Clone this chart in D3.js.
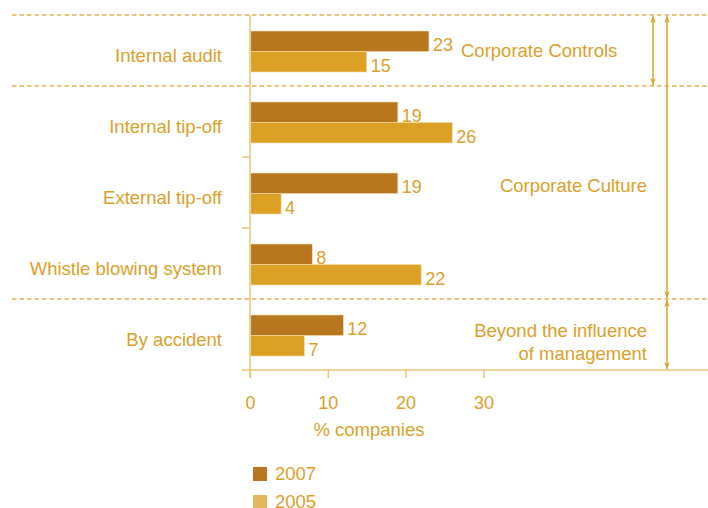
<!DOCTYPE html>
<html>
<head>
<meta charset="utf-8">
<script src="https://cdn.jsdelivr.net/npm/d3@7"></script>
<style>
  html, body { margin: 0; padding: 0; background: #fff; }
  svg { display: block; font-family: "Liberation Sans", Arial, sans-serif; }
</style>
</head>
<body>
<svg id="chart" width="708" height="508"></svg>
<script>
// How fraud was detected, share of companies (%)
const categories = ["Internal audit", "Internal tip-off", "External tip-off", "Whistle blowing system", "By accident"];
const values2007 = [23, 19, 19, 8, 12];
const values2005 = [15, 26, 4, 22, 7];
const seriesNames = ["2007", "2005"];
const xTicks = [0, 10, 20, 30];
const xTitle = "% companies";
// Groups of categories, spanned by a bracket arrow on the right
const groups = [
  { label: ["Corporate Controls"], from: 0, to: 0 },
  { label: ["Corporate Culture"], from: 0, to: 3 },
  { label: ["Beyond the influence", "of management"], from: 4, to: 4 }
];

const colDark = "#b8761f";
const colLight = "#dca124";
const colLegendLight = "#e3b85c";
const colText = "#dca02a";
const colAxis = "#ecc476";
const colDash = "#e3b257";

const svg = d3.select("#chart");

const x = d3.scaleLinear().domain([0, 30]).range([250, 483.4]);
const y = d3.scaleBand().domain(categories).range([15, 370]);
const inner = d3.scaleBand().domain(seriesNames).range([0, 41]);
const groupOffset = (y.bandwidth() - inner.range()[1]) / 2 + 1;

// arrow markers
const defs = svg.append("defs");
["start", "end"].forEach(kind => {
  defs.append("marker")
    .attr("id", "arr-" + kind)
    .attr("viewBox", "0 0 10 10")
    .attr("refX", kind === "end" ? 10 : 0)
    .attr("refY", 5)
    .attr("markerWidth", 7)
    .attr("markerHeight", 9)
    .attr("markerUnits", "userSpaceOnUse")
    .attr("orient", "auto")
    .append("path")
    .attr("d", kind === "end" ? "M0,1 L10,5 L0,9 L3,5 Z" : "M10,1 L0,5 L10,9 L7,5 Z")
    .attr("fill", colText);
});

// dashed separators between category groups
const sepYs = [y(categories[0]), y(categories[1]), y(categories[4])];
svg.append("g").selectAll("line").data(sepYs).join("line")
  .attr("x1", 12).attr("x2", 708)
  .attr("y1", d => d).attr("y2", d => d)
  .attr("stroke", colDash)
  .attr("stroke-width", 1.5)
  .attr("stroke-dasharray", "4.5,3");

// y axis line with category boundary ticks
svg.append("line")
  .attr("x1", x(0)).attr("x2", x(0))
  .attr("y1", y.range()[0]).attr("y2", y.range()[1] + 8)
  .attr("stroke", colAxis).attr("stroke-width", 1.5);
svg.append("g").selectAll("line").data([y(categories[2]), y(categories[3])]).join("line")
  .attr("x1", x(0) - 8).attr("x2", x(0))
  .attr("y1", d => d).attr("y2", d => d)
  .attr("stroke", colAxis).attr("stroke-width", 1.5);

// x axis
const xAxis = d3.axisBottom(x).tickValues(xTicks).tickSize(8).tickPadding(18);
const gx = svg.append("g").attr("transform", `translate(0,${y.range()[1]})`).call(xAxis);
gx.select(".domain").remove();
gx.append("line")
  .attr("x1", 242).attr("x2", 708).attr("y1", 0).attr("y2", 0)
  .attr("stroke", colAxis).attr("stroke-width", 1.5);
gx.selectAll(".tick line").attr("stroke", colAxis).attr("stroke-width", 1.5);
gx.selectAll(".tick text")
  .attr("fill", colText)
  .attr("font-size", 18)
  .attr("font-family", "Liberation Sans, Arial, sans-serif");

svg.append("text")
  .attr("x", 369).attr("y", 436)
  .attr("text-anchor", "middle")
  .attr("fill", colText).attr("font-size", 18.5)
  .text(xTitle);

// bars
const rows = categories.map((c, i) => ({ cat: c, vals: [
  { s: "2007", v: values2007[i], col: colDark },
  { s: "2005", v: values2005[i], col: colLight }
] }));

const rowG = svg.append("g").selectAll("g").data(rows).join("g")
  .attr("transform", d => `translate(0,${y(d.cat) + groupOffset})`);

rowG.selectAll("rect").data(d => d.vals).join("rect")
  .attr("x", x(0) + 0.75)
  .attr("y", d => inner(d.s))
  .attr("width", d => x(d.v) - x(0) - 0.75)
  .attr("height", inner.bandwidth())
  .attr("fill", d => d.col)
  .attr("stroke", "#f3dcae")
  .attr("stroke-width", 0.6);

rowG.selectAll("text.val").data(d => d.vals).join("text")
  .attr("class", "val")
  .attr("x", d => x(d.v) + 4)
  .attr("y", d => inner(d.s) + inner.bandwidth() - 0.5)
  .attr("fill", colText)
  .attr("font-size", 18)
  .text(d => d.v);

// category labels
svg.append("g").selectAll("text").data(categories).join("text")
  .attr("x", 222)
  .attr("y", d => y(d) + y.bandwidth() / 2 + 11)
  .attr("text-anchor", "end")
  .attr("fill", colText)
  .attr("font-size", 18.5)
  .text(d => d);

// group brackets and labels
const bracketX = [653, 667, 667];
groups.forEach((g, i) => {
  const y0 = y(categories[g.from]);
  const y1 = y(categories[g.to]) + y.bandwidth();
  svg.append("line")
    .attr("x1", bracketX[i]).attr("x2", bracketX[i])
    .attr("y1", y0 + 1).attr("y2", y1 - 1)
    .attr("stroke", colText).attr("stroke-width", 1.5)
    .attr("marker-start", "url(#arr-start)")
    .attr("marker-end", "url(#arr-end)");
});

// group labels
svg.append("text")
  .attr("x", 461).attr("y", 57)
  .attr("fill", colText).attr("font-size", 18.5)
  .text(groups[0].label[0]);
svg.append("text")
  .attr("x", 647).attr("y", 192)
  .attr("text-anchor", "end")
  .attr("fill", colText).attr("font-size", 18.5)
  .text(groups[1].label[0]);
svg.append("text")
  .attr("x", 647).attr("y", 337)
  .attr("text-anchor", "end")
  .attr("fill", colText).attr("font-size", 18.5)
  .selectAll("tspan").data(groups[2].label).join("tspan")
  .attr("x", 647)
  .attr("dy", (d, i) => i === 0 ? 0 : 22.5)
  .text(d => d);

// legend
const legend = svg.append("g").selectAll("g").data(seriesNames).join("g")
  .attr("transform", (d, i) => `translate(253,${467 + i * 28})`);
legend.append("rect")
  .attr("width", 14).attr("height", 14)
  .attr("fill", (d, i) => i === 0 ? colDark : colLegendLight);
legend.append("text")
  .attr("x", 22).attr("y", 12.5)
  .attr("fill", colText).attr("font-size", 18.5)
  .text(d => d);
</script>
</body>
</html>
